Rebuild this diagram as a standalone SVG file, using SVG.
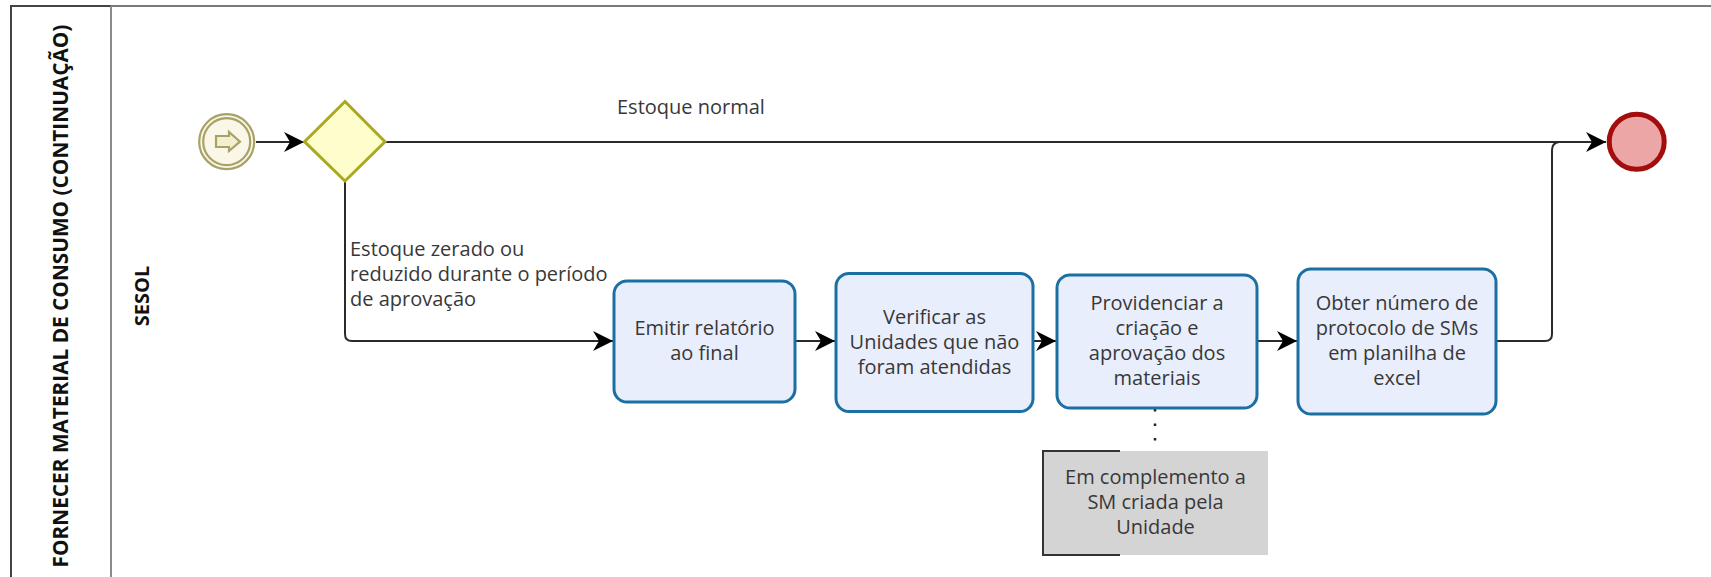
<svg xmlns="http://www.w3.org/2000/svg" width="1711" height="577" viewBox="0 0 1711 577">
<style>
.lbl{font-family:"Open Sans","Noto Sans","Liberation Sans",sans-serif;font-size:20px;fill:#383838}
.ctr{text-anchor:middle}
.bold{font-family:"Open Sans","Noto Sans","Liberation Sans",sans-serif;font-size:20px;font-weight:bold;fill:#111;text-anchor:middle}
.title{font-size:20.8px}
.task{fill:#e9eefc;stroke:#1b6fa3;stroke-width:3}
.flow{fill:none;stroke:#2a2a2a;stroke-width:2}
</style>
<defs>
<marker id="arr" markerUnits="userSpaceOnUse" markerWidth="24" markerHeight="24" viewBox="-22 -12 24 24" refX="0" refY="0" orient="auto">
<path d="M-20,-10 L0,0 L-20,10 L-14,0 z" fill="#000"/>
</marker>
</defs>
<rect width="1711" height="577" fill="#fff"/>
<g id="pool">
<line x1="111" y1="6" x2="1711" y2="6" stroke="#7a7a7a" stroke-width="2"/>
<line x1="11" y1="6" x2="111" y2="6" stroke="#444" stroke-width="2"/>
<line x1="11" y1="5" x2="11" y2="577" stroke="#444" stroke-width="2"/>
<line x1="111" y1="6" x2="111" y2="577" stroke="#8a8a8a" stroke-width="2"/>
<text class="bold title" transform="translate(68,296) rotate(-90)">FORNECER MATERIAL DE CONSUMO (CONTINUAÇÃO)</text>
</g>
<g id="lane">
<text class="bold" transform="translate(149,296) rotate(-90)">SESOL</text>
</g>
<g id="connectors">
<path class="flow" d="M256,142 H304" marker-end="url(#arr)"/>
<path class="flow" d="M385,142 H1606" marker-end="url(#arr)"/>
<path class="flow" d="M345,181 V334 Q345,341 352,341 H613" marker-end="url(#arr)"/>
<path class="flow" d="M795,341 H835" marker-end="url(#arr)"/>
<path class="flow" d="M1033,341 H1056" marker-end="url(#arr)"/>
<path class="flow" d="M1257,341 H1297" marker-end="url(#arr)"/>
<path class="flow" d="M1496,341 H1545 Q1552,341 1552,334 V150 Q1552,143 1559,142"/>
<path d="M1155,409 V443" fill="none" stroke="#222" stroke-width="2.5" stroke-dasharray="2.5 12"/>
<text class="lbl" x="617" y="114">Estoque normal</text>
<text class="lbl" x="350" y="256">Estoque zerado ou</text>
<text class="lbl" x="350" y="281">reduzido durante o período</text>
<text class="lbl" x="350" y="306">de aprovação</text>
</g>
<g id="start">
<circle cx="226.7" cy="141.7" r="27.5" fill="#fbf7e8" stroke="#a7a266" stroke-width="2.2"/>
<circle cx="226.7" cy="141.7" r="23.5" fill="none" stroke="#a7a266" stroke-width="2.2"/>
<path d="M216,136 H229 V132 L240,141.7 L229,151 V147 H216 z" fill="#f4efcf" stroke="#a7a266" stroke-width="2.2" stroke-linejoin="miter"/>
</g>
<g id="gateway">
<polygon points="345,101.5 385,141.7 345,181 304.5,141.7" fill="#fefecc" stroke="#a9a922" stroke-width="3"/>
</g>
<g id="end">
<circle cx="1636.7" cy="141.7" r="27.5" fill="#eda6a6" stroke="#a30d0d" stroke-width="5"/>
</g>
<g id="task1">
<rect class="task" x="614" y="281" width="181" height="121" rx="13"/>
<text class="lbl ctr" x="704.5" y="335">Emitir relatório</text>
<text class="lbl ctr" x="704.5" y="360">ao final</text>
</g>
<g id="task2">
<rect class="task" x="836" y="273.5" width="197" height="138" rx="13"/>
<text class="lbl ctr" x="934.5" y="323.5">Verificar as</text>
<text class="lbl ctr" x="934.5" y="348.5">Unidades que não</text>
<text class="lbl ctr" x="934.5" y="373.5">foram atendidas</text>
</g>
<g id="task3">
<rect class="task" x="1057" y="275" width="200" height="133" rx="13"/>
<text class="lbl ctr" x="1157" y="310">Providenciar a</text>
<text class="lbl ctr" x="1157" y="335">criação e</text>
<text class="lbl ctr" x="1157" y="360">aprovação dos</text>
<text class="lbl ctr" x="1157" y="385">materiais</text>
</g>
<g id="task4">
<rect class="task" x="1298" y="269" width="198" height="145" rx="13"/>
<text class="lbl ctr" x="1397" y="309.5">Obter número de</text>
<text class="lbl ctr" x="1397" y="334.5">protocolo de SMs</text>
<text class="lbl ctr" x="1397" y="359.5">em planilha de</text>
<text class="lbl ctr" x="1397" y="384.5">excel</text>
</g>
<g id="annotation">
<rect x="1043" y="451" width="225" height="104" fill="#d4d4d4"/>
<path d="M1120,451 H1043 V555 H1120" fill="none" stroke="#333" stroke-width="2"/>
<text class="lbl ctr" x="1155.5" y="484">Em complemento a</text>
<text class="lbl ctr" x="1155.5" y="509">SM criada pela</text>
<text class="lbl ctr" x="1155.5" y="534">Unidade</text>
</g>
</svg>
